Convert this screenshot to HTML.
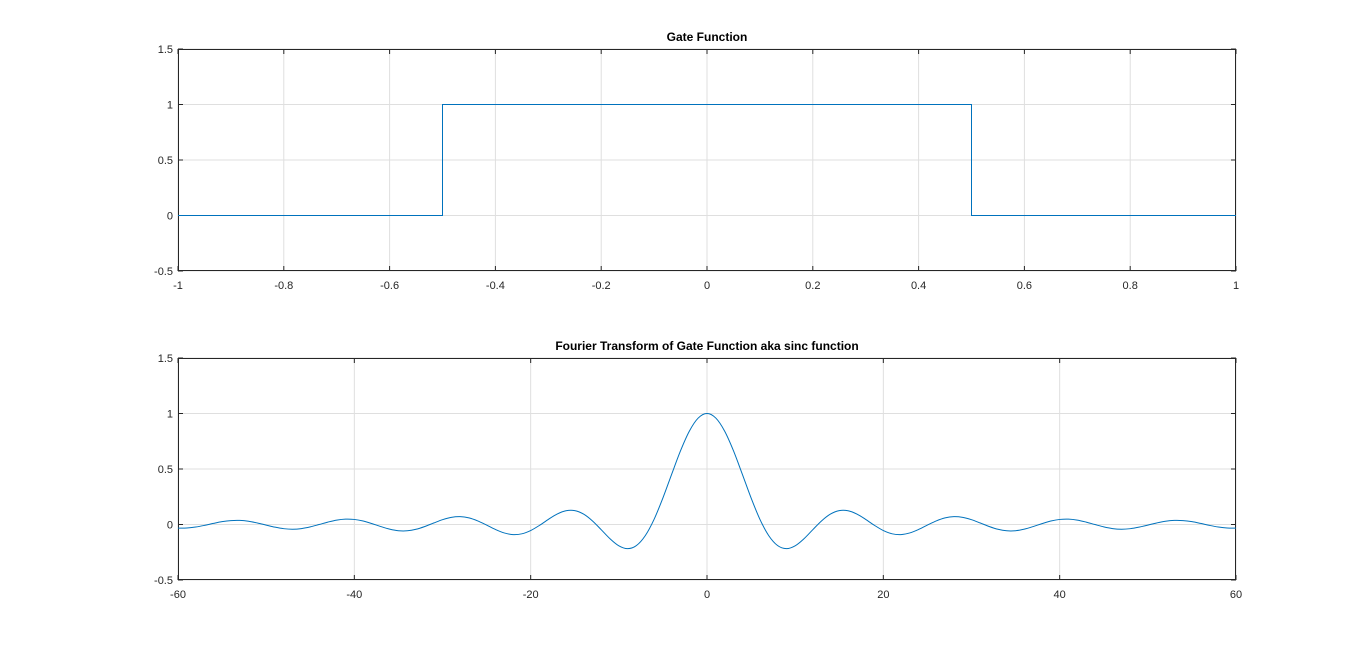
<!DOCTYPE html>
<html><head><meta charset="utf-8"><style>
body{margin:0;background:#fff;font-family:"Liberation Sans",Arial,sans-serif;}
svg text{font-family:"Liberation Sans",Arial,sans-serif;font-size:11px;fill:#262626;}
</style></head><body>
<svg id="fig" width="1366" height="651"></svg>
<script>
// Gate function data
const gateX = [-1, -0.5, -0.5, 0.5, 0.5, 1];
const gateY = [0, 0, 1, 1, 0, 0];
const gateXTicks = [-1, -0.8, -0.6, -0.4, -0.2, 0, 0.2, 0.4, 0.6, 0.8, 1];
const yTicks = [-0.5, 0, 0.5, 1, 1.5];
// Sinc samples (x = 0..60, step 1; symmetric)
const sincPos = [1,.9589,.8415,.6650,.4546,.2394,.0470,-.1002,-.1892,-.2172,-.1918,-.1283,-.0466,.0331,.0939,.1251,.1237,.0939,.0458,-.0079,-.0544,-.0838,-.0909,-.0761,-.0447,-.0053,.0323,.0595,.0708,.0645,.0434,.0133,-.0180,-.0431,-.0566,-.0560,-.0417,-.0185,.0079,.0311,.0456,.0485,.0398,.0218,-.0004,-.0216,-.0368,-.0425,-.0377,-.0240,-.0053,.0139,.0293,.0370,.0354,.0255,.0097,-.0080,-.0229,-.0320,-.0329];
const sincXTicks = [-60, -40, -20, 0, 20, 40, 60];

const NS = "http://www.w3.org/2000/svg";
const svg = document.getElementById('fig');
function mk(tag, attrs, parent){const e=document.createElementNS(NS,tag);for(const k in attrs)e.setAttribute(k,attrs[k]);(parent||svg).appendChild(e);return e;}

function axes(name, L, R, T, B, xmin, xmax, xt, title, fmt){
  const g = mk('g', {});
  
  
  const sx = v => L + (v - xmin) / (xmax - xmin) * (R - L);
  const sy = v => B - (v + 0.5) / 2 * (B - T);
  mk('rect', {x:L, y:T, width:R-L, height:B-T, fill:'#fff'}, g);
  xt.forEach(v => {
    const l = mk('line', {x1:sx(v), x2:sx(v), y1:T, y2:B, stroke:'#dfdfdf', 'stroke-width':1}, g);
    
    
    mk('line', {x1:sx(v), x2:sx(v), y1:B, y2:B-5, stroke:'#262626'}, g);
    mk('line', {x1:sx(v), x2:sx(v), y1:T, y2:T+5, stroke:'#262626'}, g);
    const t = mk('text', {x:sx(v), y:B+18, 'text-anchor':'middle'}, g);
    t.textContent = fmt(v);
    
    
  });
  yTicks.forEach(v => {
    const l = mk('line', {x1:L, x2:R, y1:sy(v), y2:sy(v), stroke:'#dfdfdf'}, g);
    
    
    mk('line', {x1:L, x2:L+5, y1:sy(v), y2:sy(v), stroke:'#262626'}, g);
    mk('line', {x1:R, x2:R-5, y1:sy(v), y2:sy(v), stroke:'#262626'}, g);
    const t = mk('text', {x:L-5, y:sy(v)+4, 'text-anchor':'end'}, g);
    t.textContent = String(v);
    
    
  });
  mk('rect', {x:L+0.5, y:T+0.5, width:R-L-1, height:B-T-1, fill:'none', stroke:'#262626', 'stroke-width':1}, g);
  const tt = mk('text', {x:(L+R)/2, y:T-8, 'text-anchor':'middle', 'font-weight':'bold', style:'font-size:12px;fill:#000'}, g);
  tt.textContent = title;
  
  
  return {g, sx, sy};
}

const a1 = axes('gate-axes', 178, 1236, 49, 271, -1, 1, gateXTicks, 'Gate Function', v => String(+v.toFixed(1)));
let d = gateX.map((x,i) => (i?'L':'M') + a1.sx(x) + ',' + a1.sy(gateY[i])).join('');
const p1 = mk('path', {d, fill:'none', stroke:'#0072bd', 'stroke-width':1}, a1.g);



const a2 = axes('sinc-axes', 178, 1236, 358, 580, -60, 60, sincXTicks, 'Fourier Transform of Gate Function aka sinc function', v => String(v));
const xs = [], ys = [];
for (let i = sincPos.length - 1; i > 0; i--) { xs.push(-i); ys.push(sincPos[i]); }
for (let i = 0; i < sincPos.length; i++) { xs.push(i); ys.push(sincPos[i]); }
// Catmull-Rom smoothing
let d2 = 'M' + a2.sx(xs[0]) + ',' + a2.sy(ys[0]);
for (let i = 0; i < xs.length - 1; i++) {
  const p0 = [a2.sx(xs[Math.max(i-1,0)]), a2.sy(ys[Math.max(i-1,0)])];
  const pA = [a2.sx(xs[i]), a2.sy(ys[i])];
  const pB = [a2.sx(xs[i+1]), a2.sy(ys[i+1])];
  const p3 = [a2.sx(xs[Math.min(i+2,xs.length-1)]), a2.sy(ys[Math.min(i+2,xs.length-1)])];
  const c1 = [pA[0]+(pB[0]-p0[0])/6, pA[1]+(pB[1]-p0[1])/6];
  const c2 = [pB[0]-(p3[0]-pA[0])/6, pB[1]-(p3[1]-pA[1])/6];
  d2 += 'C' + c1.join(',') + ' ' + c2.join(',') + ' ' + pB.join(',');
}
const p2 = mk('path', {d:d2, fill:'none', stroke:'#0072bd', 'stroke-width':1}, a2.g);


</script>
</body></html>
